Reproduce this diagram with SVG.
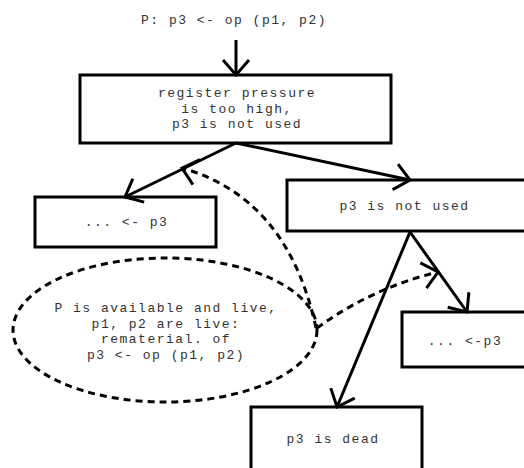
<svg xmlns="http://www.w3.org/2000/svg" width="524" height="468" viewBox="0 0 524 468">
  <style>
    .box { fill: #fff; stroke: #000; stroke-width: 3; }
    .edge { fill: none; stroke: #000; stroke-width: 3; marker-end: url(#arrow); }
    .dash { fill: none; stroke: #000; stroke-width: 3; stroke-dasharray: 7 5; }
    .lbl { font-family: "Liberation Mono", "Courier New", monospace; font-size: 13px; letter-spacing: 1.5px; fill: #333; text-anchor: middle; }
  </style>
  <defs>
    <marker id="arrow" markerUnits="userSpaceOnUse" markerWidth="40" markerHeight="40" refX="0" refY="0" viewBox="-20 -20 40 40" orient="auto" overflow="visible">
      <path d="M -15 -13 L 0 0 L -15 13" fill="none" stroke="#000" stroke-width="3" stroke-dasharray="none"/>
    </marker>
  </defs>

  <rect width="524" height="468" fill="#fff"/>

  <!-- starting instruction -->
  <g id="start">
    <text class="lbl" x="234" y="24">P: p3 &lt;- op (p1, p2)</text>
  </g>

  <g id="pressure">
    <rect class="box" x="80" y="75" width="311" height="68"/>
    <text class="lbl" x="237" y="97">register pressure</text>
    <text class="lbl" x="237" y="112.5">is too high,</text>
    <text class="lbl" x="237" y="128">p3 is not used</text>
  </g>

  <g id="use-left">
    <rect class="box" x="35" y="197" width="181" height="50"/>
    <text class="lbl" x="126.5" y="226">... &lt;- p3</text>
  </g>

  <g id="not-used">
    <rect class="box" x="287" y="180" width="245" height="51"/>
    <text class="lbl" x="404.5" y="210">p3 is not used</text>
  </g>

  <g id="use-right">
    <rect class="box" x="402" y="312" width="130" height="55"/>
    <text class="lbl" x="465" y="345">... &lt;-p3</text>
  </g>

  <g id="dead">
    <rect class="box" x="251" y="407" width="171" height="70"/>
    <text class="lbl" x="333" y="443">p3 is dead</text>
  </g>

  <g id="remat">
    <ellipse class="dash" cx="165" cy="330" rx="152" ry="72"/>
    <text class="lbl" x="166" y="312">P is available and live,</text>
    <text class="lbl" x="166" y="327.5">p1, p2 are live:</text>
    <text class="lbl" x="166" y="343">rematerial. of</text>
    <text class="lbl" x="166" y="358.5">p3 &lt;- op (p1, p2)</text>
  </g>

  <!-- control-flow edges and rematerialisation hints -->
  <g id="connectors">
    <path class="edge" d="M 236 40 L 236 75"/>
    <path class="edge" d="M 236 143 L 125 197"/>
    <path class="edge" d="M 236 143 L 410 180"/>
    <path class="edge" d="M 410 232 L 467 312"/>
    <path class="edge" d="M 410 232 L 337 407"/>
    <path class="dash" d="M 316 328 Q 288 198 182 168" marker-end="url(#arrow)"/>
    <path class="dash" d="M 317 328 Q 372 288 438 272" marker-end="url(#arrow)"/>
  </g>
</svg>
